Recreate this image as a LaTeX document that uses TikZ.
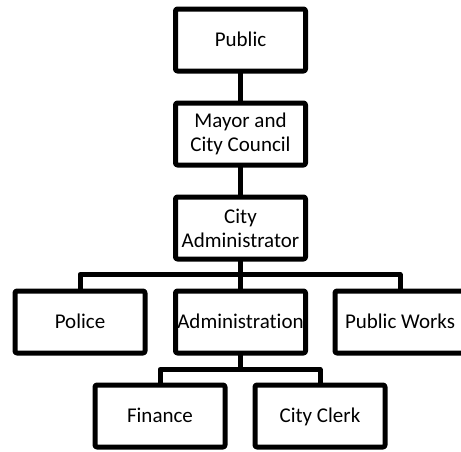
\documentclass[tikz,border=0pt]{standalone}
\usepackage{fontspec}
\setmainfont{Carlito}[Ligatures=NoCommon]
\begin{document}
\begin{tikzpicture}[x=1pt, y=-1pt, font=\fontsize{21}{24}\selectfont, line join=round, line cap=round]
	\tikzset{unit/.style={draw, line width=5pt, rounded corners=2pt, minimum width=130pt, minimum height=62pt, align=center, inner sep=0pt},
		oneline/.style={unit, text height=14pt, text depth=2pt},
		link/.style={line width=5pt}}
	\useasboundingbox (0,0) rectangle (461,451);
	% levels
	\node[oneline] (pub) at (240.5,40) {Public};
	\node[unit] (mayor) at (240.5,134) {Mayor and\\City Council};
	\node[unit] (cadm) at (240.5,228) {City\\Administrator};
	\node[oneline] (police) at (80,322) {Police};
	\node[oneline] (adm) at (240.5,322) {Administration};
	\node[oneline] (pworks) at (400,322) {Public Works};
	\node[oneline] (fin) at (160,416) {Finance};
	\node[oneline] (clerk) at (320,416) {City Clerk};
	% connectors
	\draw[link] (pub) -- (mayor);
	\draw[link] (mayor) -- (cadm);
	\draw[link] (cadm.south) -- (adm.north);
	\draw[link] (cadm.south) -- ++(0,13) -| (police.north);
	\draw[link] (cadm.south) -- ++(0,13) -| (pworks.north);
	\draw[link] (adm.south) -- ++(0,14) -| (fin.north);
	\draw[link] (adm.south) -- ++(0,14) -| (clerk.north);
\end{tikzpicture}
\end{document}
